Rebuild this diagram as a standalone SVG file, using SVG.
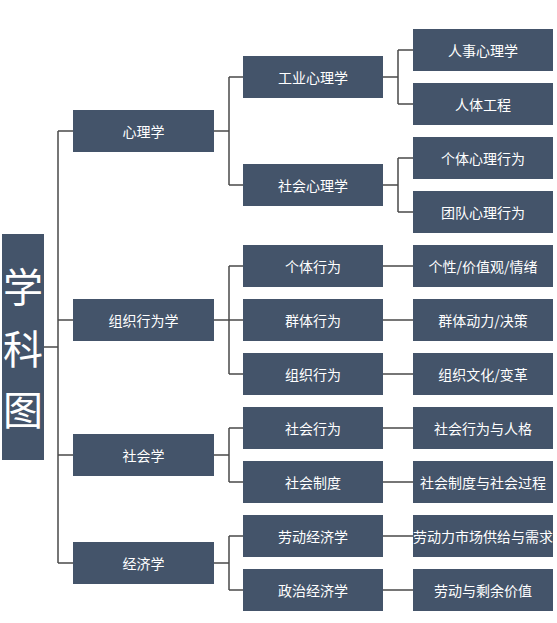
<svg xmlns="http://www.w3.org/2000/svg" width="557" height="623" viewBox="0 0 557 623">
<style>
.b{fill:#44546a;}
.t{fill:#ffffff;font-family:"Noto Sans CJK SC","Noto Sans",sans-serif;font-size:14px;text-anchor:middle;dominant-baseline:central;}
.r{fill:#ffffff;font-family:"Noto Sans CJK SC","Noto Sans",sans-serif;font-size:40px;text-anchor:middle;dominant-baseline:central;}
.c{fill:none;stroke:#4a4a4a;stroke-width:1.5;}
</style>
<rect width="557" height="623" fill="#ffffff"/>
<g id="connectors">
<path class="c" d="M44 347H58M58 131V563M58 131H73M58 320H73M58 455H73M58 563H73"/>
<path class="c" d="M214 131H229M229 77V185M229 77H243M229 185H243"/>
<path class="c" d="M214 320H229M229 266V374M229 266H243M229 320H243M229 374H243"/>
<path class="c" d="M214 455H229M229 428V482M229 428H243M229 482H243"/>
<path class="c" d="M214 563H229M229 536V590M229 536H243M229 590H243"/>
<path class="c" d="M383 77H398M398 50V104M398 50H413M398 104H413"/>
<path class="c" d="M383 185H398M398 158V212M398 158H413M398 212H413"/>
<path class="c" d="M383 266H413M383 320H413M383 374H413M383 428H413M383 482H413M383 536H413M383 590H413"/>
</g>
<g id="root"><rect class="b" x="2" y="234" width="42" height="226"/><text class="r" x="23" y="285">学</text><text class="r" x="23" y="347">科</text><text class="r" x="23" y="408">图</text></g>
<g id="n-xinlixue"><rect class="b" x="73" y="110" width="141" height="42"/><text class="t" x="143.5" y="131">心理学</text></g>
<g id="n-zuzhixingweixue"><rect class="b" x="73" y="299" width="141" height="42"/><text class="t" x="143.5" y="320">组织行为学</text></g>
<g id="n-shehuixue"><rect class="b" x="73" y="434" width="141" height="42"/><text class="t" x="143.5" y="455">社会学</text></g>
<g id="n-jingjixue"><rect class="b" x="73" y="542" width="141" height="42"/><text class="t" x="143.5" y="563">经济学</text></g>
<g id="n-gongye"><rect class="b" x="243" y="56" width="140" height="42"/><text class="t" x="313" y="77">工业心理学</text></g>
<g id="n-shehuixinli"><rect class="b" x="243" y="164" width="140" height="42"/><text class="t" x="313" y="185">社会心理学</text></g>
<g id="n-getixingwei"><rect class="b" x="243" y="245" width="140" height="42"/><text class="t" x="313" y="266">个体行为</text></g>
<g id="n-qunti"><rect class="b" x="243" y="299" width="140" height="42"/><text class="t" x="313" y="320">群体行为</text></g>
<g id="n-zuzhi"><rect class="b" x="243" y="353" width="140" height="42"/><text class="t" x="313" y="374">组织行为</text></g>
<g id="n-shehuixingwei"><rect class="b" x="243" y="407" width="140" height="42"/><text class="t" x="313" y="428">社会行为</text></g>
<g id="n-shehuizhidu"><rect class="b" x="243" y="461" width="140" height="42"/><text class="t" x="313" y="482">社会制度</text></g>
<g id="n-laodong"><rect class="b" x="243" y="515" width="140" height="42"/><text class="t" x="313" y="536">劳动经济学</text></g>
<g id="n-zhengzhi"><rect class="b" x="243" y="569" width="140" height="42"/><text class="t" x="313" y="590">政治经济学</text></g>
<g id="n-renshi"><rect class="b" x="413" y="29" width="140" height="42"/><text class="t" x="483" y="50">人事心理学</text></g>
<g id="n-renti"><rect class="b" x="413" y="83" width="140" height="42"/><text class="t" x="483" y="104">人体工程</text></g>
<g id="n-getixinli"><rect class="b" x="413" y="137" width="140" height="42"/><text class="t" x="483" y="158">个体心理行为</text></g>
<g id="n-tuandui"><rect class="b" x="413" y="191" width="140" height="42"/><text class="t" x="483" y="212">团队心理行为</text></g>
<g id="n-gexing"><rect class="b" x="413" y="245" width="140" height="42"/><text class="t" x="483" y="266">个性/价值观/情绪</text></g>
<g id="n-qundong"><rect class="b" x="413" y="299" width="140" height="42"/><text class="t" x="483" y="320">群体动力/决策</text></g>
<g id="n-wenhua"><rect class="b" x="413" y="353" width="140" height="42"/><text class="t" x="483" y="374">组织文化/变革</text></g>
<g id="n-renge"><rect class="b" x="413" y="407" width="140" height="42"/><text class="t" x="483" y="428">社会行为与人格</text></g>
<g id="n-guocheng"><rect class="b" x="413" y="461" width="140" height="42"/><text class="t" x="483" y="482">社会制度与社会过程</text></g>
<g id="n-shichang"><rect class="b" x="413" y="515" width="140" height="42"/><text class="t" x="483" y="536">劳动力市场供给与需求</text></g>
<g id="n-shengyu"><rect class="b" x="413" y="569" width="140" height="42"/><text class="t" x="483" y="590">劳动与剩余价值</text></g>
</svg>
